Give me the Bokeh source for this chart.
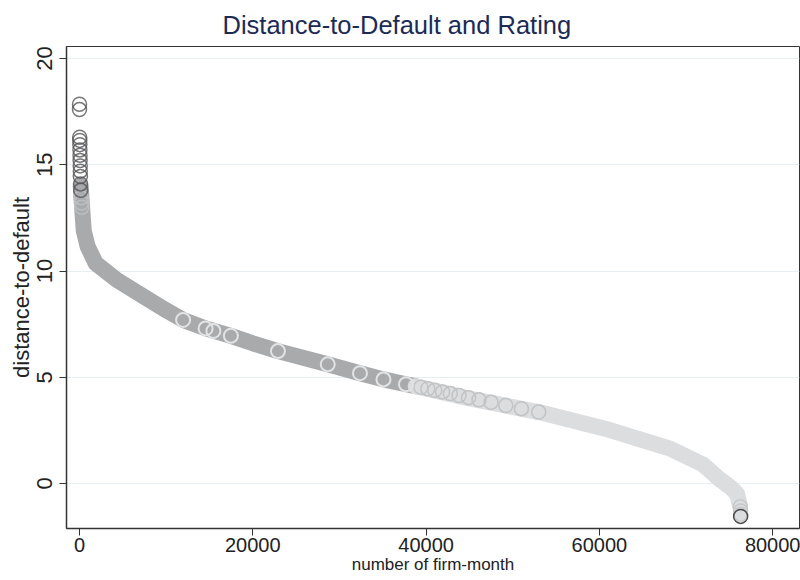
from bokeh.plotting import figure
from bokeh.models import Range1d, FixedTicker
from bokeh.embed import file_html
from bokeh.resources import INLINE

# ---- data ----
# darkest, highest-rated firm-months (top-left cluster)
top_x = [0, 0, 20, 30, 40, 50, 60, 70, 80, 90, 100, 120, 140]
top_y = [17.85, 17.6, 16.3, 16.15, 15.95, 15.7, 15.45, 15.2, 14.95, 14.7, 14.45, 14.1, 13.8]

# light outlined circles around y = 13
pale_x = [180, 230, 260]
pale_y = [13.45, 13.2, 13.0]

# medium-grey part of the curve
mid_x = [140, 300, 490, 940, 1880, 4320, 7450, 9800, 11960, 14550, 17470,
         20000, 22900, 28650, 32370, 35080, 37680, 38800]
mid_y = [14.0, 13.0, 11.9, 11.15, 10.36, 9.58, 8.79, 8.2, 7.7, 7.3, 6.95,
         6.6, 6.23, 5.61, 5.19, 4.9, 4.67, 4.58]

# isolated light circles visible on the medium band
ring_x = [11960, 14550, 15450, 17470, 22900, 28650, 32370, 35080, 37680]
ring_y = [7.7, 7.3, 7.18, 6.95, 6.23, 5.61, 5.19, 4.9, 4.67]

# light-grey part of the curve
low_x = [38800, 45000, 53130, 60650, 68170, 71930, 73810, 75200, 75900, 76200]
low_y = [4.58, 4.0, 3.35, 2.58, 1.64, 0.9, 0.22, -0.2, -0.5, -1.0]

# cluster of overlapping circles at the start of the light band
clus_x = [39400, 40200, 41000, 41900, 42800, 43800, 44900, 46100, 47500, 49200, 51000, 53000]
clus_y = [4.53, 4.46, 4.39, 4.31, 4.23, 4.14, 4.04, 3.94, 3.82, 3.67, 3.52, 3.36]

# lowest distance-to-default observations
end_x = [76250, 76300, 76300]
end_y = [-1.1, -1.3, -1.45]
worst_x = [76300]
worst_y = [-1.55]

x_ticks = [0, 20000, 40000, 60000, 80000]
y_ticks = [0, 5, 10, 15, 20]

FONT = "Liberation Sans"

p = figure(width=800, height=580, output_backend="svg", toolbar_location=None,
           x_range=Range1d(-1500, 83093), y_range=Range1d(-2.12, 20.57),
           min_border_left=66, min_border_right=1, min_border_top=46, min_border_bottom=52,
           title="Distance-to-Default and Rating")

p.title.align = "left"
p.title.offset = 156
p.title.standoff = 16
p.title.text_font = FONT
p.title.text_font_style = "normal"
p.title.text_font_size = "25.5px"
p.title.text_color = "#1c2a56"

p.background_fill_color = "white"
p.border_fill_color = "white"
p.outline_line_color = "#333333"
p.outline_line_width = 1

for ax in (p.xaxis[0], p.yaxis[0]):
    ax.axis_line_color = "#333333"
    ax.axis_line_width = 1.5
    ax.major_tick_line_color = "#333333"
    ax.major_tick_out = 7
    ax.major_tick_in = 0
    ax.minor_tick_line_color = None
    ax.major_label_text_color = "#222222"
    ax.major_label_text_font = FONT
    ax.axis_label_text_font = FONT
    ax.axis_label_text_font_style = "normal"
    ax.axis_label_text_color = "#222222"

p.xaxis.major_label_text_font_size = "20px"
p.xaxis.axis_label_text_font_size = "17px"
p.yaxis.major_label_text_font_size = "22px"
p.yaxis.axis_label_text_font_size = "22px"

p.xaxis.ticker = FixedTicker(ticks=x_ticks)
p.yaxis.ticker = FixedTicker(ticks=y_ticks)
p.xaxis.axis_label = "number of firm-month"
p.yaxis.axis_label = "distance-to-default"
p.yaxis.major_label_orientation = "vertical"
p.xaxis.major_label_standoff = 2
p.yaxis.major_label_standoff = 7
p.xaxis.axis_label_standoff = 0
p.yaxis.axis_label_standoff = 1

p.xgrid.grid_line_color = None
p.ygrid.grid_line_color = "#e6f0f2"
p.ygrid.grid_line_width = 1.2

# bands formed by overlapping circles
p.line(mid_x, mid_y, line_width=16, line_color="#a9aaac", line_cap="round", line_join="round")
p.line(low_x, low_y, line_width=16, line_color="#dcdddf", line_cap="round", line_join="round")

p.scatter(clus_x, clus_y, marker="circle", size=14, fill_color=None,
          line_color="#c2c3c5", line_width=1.5)
p.scatter(ring_x, ring_y, marker="circle", size=14, fill_color=None,
          line_color="#e2e3e4", line_width=2)
p.scatter(pale_x, pale_y, marker="circle", size=14, fill_color=None,
          line_color="#bdbec0", line_width=1.5)
p.scatter(top_x, top_y, marker="circle", size=14, fill_color=None,
          line_color="#555558", line_alpha=0.8, line_width=1.5)
p.scatter(end_x, end_y, marker="circle", size=14, fill_color="#dcdddf",
          line_color="#c8c9cb", line_width=1.5)
p.scatter(worst_x, worst_y, marker="circle", size=14, fill_color=None,
          line_color="#4a4a4c", line_width=1.5)

open("out.html", "w").write(file_html(p, INLINE))
